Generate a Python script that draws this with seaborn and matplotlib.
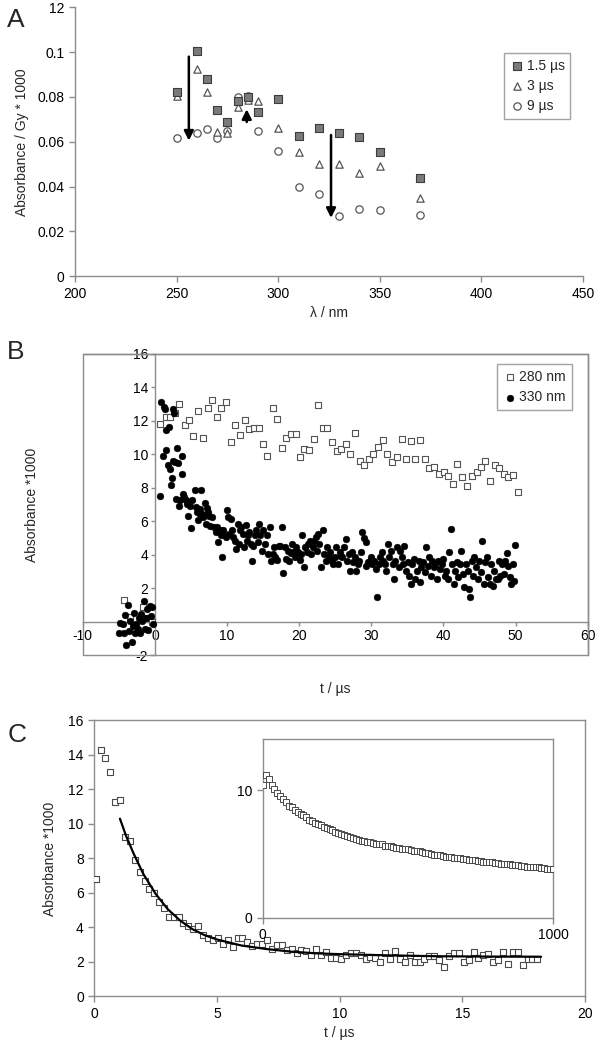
"""
Three-panel transient absorption figure (A: spectra, B: kinetics, C: decay + fit).
Values read off the published figure.
"""

import numpy as np
import pandas as pd
import matplotlib
matplotlib.use("Agg")
import matplotlib.pyplot as plt
from matplotlib.patches import Rectangle
import seaborn as sns

# ---------------- panel A: spectra at three delays ----------------
wavelength = [250, 260, 265, 270, 275, 280, 285, 290, 300, 310, 320, 330, 340, 350, 370]
abs_1_5us = [0.082, 0.1005, 0.088, 0.074, 0.069, 0.078, 0.0800, 0.0735, 0.079, 0.0625,
             0.066, 0.064, 0.062, 0.0555, 0.044]
abs_3us = [0.0805, 0.0925, 0.082, 0.0645, 0.064, 0.0755, 0.0785, 0.078, 0.066, 0.0555,
           0.050, 0.050, 0.046, 0.049, 0.035]
abs_9us = [0.0615, 0.064, 0.0655, 0.0618, 0.065, 0.080, 0.0805, 0.065, 0.056, 0.040,
           0.0365, 0.027, 0.030, 0.0295, 0.0275]
delay_labels = ["1.5 µs", "3 µs", "9 µs"]
a_yticks = [0, 0.02, 0.04, 0.06, 0.08, 0.1, 0.12]
a_yticklabels = ["0", "0.02", "0.04", "0.06", "0.08", "0.1", "12"]
# arrows: (x, y_start, y_end)
arrows_a = [(256, 0.098, 0.0605), (284.5, 0.0688, 0.0745), (326, 0.063, 0.026)]

# ---------------- panel B: kinetics at 280 and 330 nm ----------------
t_280 = [-4.25, -3.5, -2.8, -1.7, -1.1, -0.4,
         0.74, 1.5, 2.1, 2.8, 3.35, 4.1, 4.7, 5.3, 6.0, 6.65, 7.3, 7.9, 8.56, 9.2, 9.9,
         10.5, 11.1, 11.75, 12.45, 13.1, 13.7, 14.4, 14.95, 15.6, 16.3, 16.9, 17.55, 18.2,
         18.8, 19.5, 20.1, 20.7, 21.3, 22.0, 22.66, 23.3, 23.9, 24.6, 25.2, 25.85, 26.5,
         27.1, 27.8, 28.4, 29.0, 29.7, 30.3, 30.95, 31.6, 32.2, 32.9, 33.6, 34.2, 34.8,
         35.5, 36.1, 36.76, 37.4, 38.0, 38.7, 39.4, 40.05, 40.6, 41.3, 41.9, 42.6, 43.2,
         43.9, 44.6, 45.2, 45.7, 46.4, 47.1, 47.7, 48.4, 49.0, 49.7, 50.3]
a_280 = [1.3, 0.3, -0.2, 0.9, 0.2, 0.0,
         11.8, 12.25, 12.25, 12.45, 13.0, 11.73, 12.05, 11.07, 12.58, 11.0, 12.76, 13.26,
         12.25, 12.74, 13.14, 10.75, 11.73, 11.15, 12.05, 11.49, 11.6, 11.55, 10.6, 9.9,
         12.74, 12.09, 10.37, 11.0, 11.2, 11.2, 9.83, 10.33, 10.27, 10.93, 12.92, 11.57,
         11.57, 10.73, 10.17, 10.33, 10.63, 10.0, 11.25, 9.59, 9.35, 9.73, 9.99, 10.45,
         10.85, 9.99, 9.55, 9.83, 10.89, 9.73, 10.8, 9.73, 10.83, 9.69, 9.21, 9.25, 8.81,
         8.95, 8.71, 8.23, 9.41, 8.65, 8.13, 8.73, 8.95, 9.25, 9.59, 8.43, 9.35, 9.21,
         8.81, 8.63, 8.79, 7.77]

t_330 = [-5.05, -4.85, -4.5, -4.25, -4.1, -3.95, -3.8, -3.55, -3.4, -3.25, -3.1, -2.95,
         -2.75, -2.6, -2.4, -2.25, -2.1, -1.9, -1.75, -1.55, -1.4, -1.2, -1.05, -0.9,
         -0.75, -0.6, -0.45, -0.25,
         0.7, 0.85, 1.1, 1.25, 1.4, 1.5, 1.6, 1.75, 2.0, 2.1, 2.2, 2.3, 2.45, 2.55, 2.6,
         2.8, 2.9, 3.1, 3.2, 3.35, 3.5, 3.7, 3.8, 3.95, 4.05, 4.3, 4.5, 4.6, 4.8, 4.95,
         5.2, 5.5, 5.65, 5.85, 6.0, 6.2, 6.3, 6.45, 6.55, 6.7, 6.9, 7.1, 7.25, 7.35, 7.55,
         7.7, 7.95, 8.15, 8.4, 8.55, 8.75, 8.95, 9.15, 9.3, 9.4, 9.6, 9.85, 10.0, 10.15,
         10.25, 10.5, 10.65, 10.85, 11.05, 11.2, 11.45, 11.6, 11.8, 12.0, 12.2, 12.4,
         12.6, 12.8, 12.95, 13.1, 13.35, 13.5, 13.65, 13.9, 14.0, 14.25, 14.45, 14.6,
         14.8, 15.05, 15.25, 15.5, 15.7, 15.9, 16.1, 16.35, 16.55, 16.7, 16.9, 17.2, 17.4,
         17.55, 17.7, 18.0, 18.2, 18.4, 18.6, 18.8, 19.0, 19.2, 19.4, 19.6, 19.85, 20.05,
         20.25, 20.4, 20.65, 20.85, 21.05, 21.2, 21.45, 21.7, 21.85, 22.05, 22.3, 22.45,
         22.65, 22.8, 23.05, 23.25, 23.45, 23.65, 23.9, 24.1, 24.3, 24.5, 24.7, 24.95,
         25.15, 25.35, 25.6, 25.8, 26.0, 26.2, 26.45, 26.65, 26.85, 27.05, 27.3, 27.5,
         27.7, 27.9, 28.15, 28.35, 28.55, 28.75, 29.0, 29.2, 29.3, 29.5, 29.75, 29.95,
         30.15, 30.35, 30.6, 30.8, 31.0, 31.2, 31.45, 31.65, 31.85, 32.1, 32.3, 32.5,
         32.7, 32.95, 33.15, 33.35, 33.55, 33.8, 34.0, 34.2, 34.4, 34.6, 34.85, 35.05,
         35.25, 35.5, 35.7, 35.9, 36.1, 36.3, 36.55, 36.75, 36.95, 37.2, 37.4, 37.6, 37.8,
         38.0, 38.25, 38.45, 38.65, 38.9, 39.1, 39.3, 39.5, 39.75, 39.95, 40.15, 40.35,
         40.6, 40.8, 41.0, 41.2, 41.45, 41.65, 41.85, 42.05, 42.3, 42.5, 42.7, 42.9,
         43.15, 43.35, 43.55, 43.65, 43.9, 44.1, 44.3, 44.5, 44.75, 44.95, 45.15, 45.35,
         45.6, 45.8, 46.0, 46.2, 46.45, 46.65, 46.85, 47.05, 47.3, 47.5, 47.7, 47.9, 48.1,
         48.35, 48.55, 48.75, 48.95, 49.2, 49.4, 49.6, 49.8, 49.95]
a_330 = [-0.65, -0.1, -0.15, -0.65, 0.4, -1.4, 1.0, -0.55, 0.05, -1.2, -0.25, 0.55,
         -0.7, -0.15, -0.45, 0.25, -0.65, 0.45, 0.05, 1.25, -0.45, 0.25, 0.75, -0.5,
         0.95, 0.35, 0.85, -0.15,
         7.5, 13.1, 9.9, 12.85, 12.7, 10.25, 11.45, 9.35, 11.65, 9.15, 8.15, 8.6, 12.7,
         9.6, 12.45, 9.55, 7.35, 10.4, 9.5, 6.9, 7.25, 8.85, 9.9, 7.6, 7.45, 7.25, 7.05,
         6.3, 6.9, 5.6, 7.25, 7.85, 6.85, 6.55, 6.05, 6.75, 6.45, 7.85, 6.45, 6.25, 7.1,
         5.85, 6.8, 6.55, 6.3, 5.7, 6.25, 5.65, 5.35, 5.65, 4.75, 5.45, 5.15, 3.85, 5.5,
         5.25, 5.05, 6.7, 6.25, 5.25, 6.15, 5.45, 5.05, 4.85, 4.35, 5.85, 4.65, 5.45,
         5.65, 5.25, 4.45, 5.8, 4.85, 5.15, 5.35, 4.65, 3.6, 4.55, 5.15, 5.45, 4.75, 5.85,
         5.2, 4.25, 5.45, 4.65, 5.15, 4.05, 5.65, 3.65, 4.05, 4.45, 3.85, 3.7, 4.55, 4.55,
         5.65, 2.9, 4.45, 3.75, 4.25, 3.65, 4.1, 4.65, 4.15, 3.85, 4.45, 4.15, 3.7, 4.05,
         5.15, 3.25, 4.45, 4.15, 4.65, 4.85, 4.05, 4.45, 4.85, 5.05, 4.25, 5.25, 4.65,
         3.25, 5.45, 4.05, 3.65, 4.45, 3.85, 4.15, 3.65, 3.45, 3.85, 4.45, 3.45, 4.15,
         3.9, 3.85, 4.45, 4.95, 3.65, 4.05, 3.05, 4.15, 3.55, 3.85, 3.05, 3.45, 3.65,
         4.15, 5.35, 5.0, 4.75, 3.35, 3.55, 3.65, 3.85, 3.45, 3.65, 3.15, 1.5, 3.45, 3.85,
         4.15, 3.65, 3.45, 3.05, 4.65, 3.85, 4.25, 3.45, 2.55, 3.65, 4.45, 3.25, 4.25,
         3.85, 3.45, 4.55, 3.05, 3.55, 2.75, 2.25, 3.45, 3.75, 2.55, 3.05, 3.65, 2.35,
         3.25, 3.55, 2.95, 4.45, 3.35, 3.85, 2.75, 3.65, 3.25, 3.45, 2.55, 3.65, 3.15,
         3.45, 3.75, 2.75, 3.05, 2.55, 4.15, 5.55, 3.45, 2.25, 3.05, 3.55, 2.65, 3.45,
         4.25, 2.85, 2.05, 3.45, 3.05, 1.95, 1.45, 3.65, 2.75, 3.85, 3.25, 2.55, 3.65,
         2.95, 4.85, 2.25, 3.55, 3.85, 2.65, 2.25, 3.45, 2.15, 3.05, 2.55, 2.55, 3.65,
         2.75, 3.45, 2.85, 3.65, 4.1, 3.35, 2.65, 2.25, 3.45, 2.45, 4.6]
b_yticks = [-2, 0, 2, 4, 6, 8, 10, 12, 14, 16]
b_yticklabels = ["-2", "", "2", "4", "6", "8", "10", "12", "14", "16"]
b_xticks = [-10, 0, 10, 20, 30, 40, 50, 60]

# ---------------- panel C: decay at short times + fit ----------------
t_c = [0.06, 0.26, 0.45, 0.66, 0.86, 1.06, 1.25, 1.46, 1.66, 1.86, 2.05, 2.25, 2.43,
       2.63, 2.83, 3.05, 3.25, 3.44, 3.62, 3.82, 4.04, 4.24, 4.44, 4.64, 4.84, 5.04,
       5.25, 5.45, 5.64, 5.84, 6.04, 6.24, 6.44, 6.64, 6.84, 7.04, 7.24, 7.44, 7.64,
       7.84, 8.04, 8.24, 8.44, 8.64, 8.84, 9.05, 9.24, 9.44, 9.65, 9.85, 10.05, 10.25,
       10.45, 10.65, 10.85, 11.05, 11.25, 11.45, 11.65, 11.85, 12.05, 12.25, 12.45,
       12.65, 12.85, 13.05, 13.25, 13.45, 13.65, 13.85, 14.05, 14.25, 14.45, 14.65,
       14.85, 15.05, 15.25, 15.45, 15.65, 15.85, 16.05, 16.25, 16.45, 16.65, 16.85,
       17.05, 17.25, 17.45, 17.65, 17.85, 18.05]
a_c = [6.82, 14.3, 13.8, 13.0, 11.25, 11.37, 9.25, 9.0, 7.88, 7.23, 6.69, 6.24, 5.97,
       5.47, 5.14, 4.62, 4.62, 4.62, 4.24, 4.08, 3.89, 4.08, 3.56, 3.41, 3.26, 3.37,
       3.06, 3.26, 2.87, 3.37, 3.37, 3.18, 2.93, 3.02, 3.02, 3.28, 2.77, 2.99, 2.99,
       2.70, 2.74, 2.50, 2.70, 2.64, 2.41, 2.74, 2.41, 2.58, 2.25, 2.25, 2.16, 2.41,
       2.54, 2.54, 2.41, 2.16, 2.31, 2.25, 1.97, 2.50, 2.16, 2.64, 2.16, 2.00, 2.41,
       1.97, 2.00, 2.16, 2.35, 2.35, 2.12, 1.68, 2.35, 2.50, 2.50, 1.97, 2.10, 2.58,
       2.20, 2.41, 2.45, 1.97, 2.10, 2.58, 1.87, 2.58, 2.58, 1.81, 2.16, 2.16, 2.16]
t_fit = [1.05, 1.3, 1.6, 2.0, 2.5, 3.0, 3.5, 4.0, 4.5, 5.0, 6.0, 7.0, 8.0, 9.0, 10.0,
         12.0, 14.0, 16.0, 18.2]
a_fit = [10.3, 9.3, 8.3, 7.1, 5.95, 5.05, 4.4, 3.9, 3.55, 3.3, 2.95, 2.75, 2.6, 2.5,
         2.45, 2.38, 2.33, 2.31, 2.3]

# inset: long time scale
t_inset = [0, 10, 20, 30, 40, 50, 60, 70, 80, 90, 100, 110, 120, 130, 140, 150, 160,
           170, 180, 190, 200, 210, 220, 230, 240, 250, 260, 270, 280, 290, 300, 310,
           320, 330, 340, 350, 360, 370, 380, 390, 400, 410, 420, 430, 440, 450, 460,
           470, 480, 490, 500, 510, 520, 530, 540, 550, 560, 570, 580, 590, 600, 610,
           620, 630, 640, 650, 660, 670, 680, 690, 700, 710, 720, 730, 740, 750, 760,
           770, 780, 790, 800, 810, 820, 830, 840, 850, 860, 870, 880, 890, 900, 910,
           920, 930, 940, 950, 960, 970, 980, 990, 1000]
a_inset = [10.4, 11.2, 10.9, 10.4, 10.1, 9.8, 9.55, 9.3, 9.05, 8.8, 8.65, 8.45, 8.3,
           8.15, 8.05, 7.9, 7.7, 7.6, 7.45, 7.35, 7.25, 7.15, 7.05, 6.95, 6.85, 6.75,
           6.65, 6.55, 6.45, 6.4, 6.3, 6.25, 6.15, 6.1, 6.05, 6.0, 5.95, 5.9, 5.85, 5.8,
           5.75, 5.75, 5.65, 5.65, 5.6, 5.55, 5.5, 5.45, 5.4, 5.4, 5.35, 5.3, 5.25, 5.2,
           5.2, 5.15, 5.1, 5.05, 5.0, 4.95, 4.9, 4.9, 4.85, 4.8, 4.8, 4.75, 4.7, 4.7,
           4.65, 4.6, 4.6, 4.55, 4.5, 4.5, 4.45, 4.45, 4.4, 4.4, 4.35, 4.35, 4.3, 4.3,
           4.25, 4.2, 4.2, 4.2, 4.15, 4.1, 4.1, 4.05, 4.05, 4.0, 4.0, 4.0, 3.95, 3.95,
           3.9, 3.9, 3.85, 3.85, 3.8]

SPINE = "#8c8c8c"
FS = 10


def style_axes(ax):
    for s in ax.spines.values():
        s.set_color(SPINE)
        s.set_linewidth(1.0)
    ax.tick_params(colors=SPINE, labelcolor="black", labelsize=FS, length=4, width=1)


def panel_a(ax):
    df = pd.DataFrame({
        "wl": wavelength * 3,
        "abs": abs_1_5us + abs_3us + abs_9us,
        "delay": [delay_labels[0]] * len(wavelength) + [delay_labels[1]] * len(wavelength)
                 + [delay_labels[2]] * len(wavelength),
    })
    styles = {
        delay_labels[0]: dict(marker="s", s=30, color="#7a7a7a", edgecolor="#3c3c3c", linewidth=0.8),
        delay_labels[1]: dict(marker="^", s=28, color="white", edgecolor="#555555", linewidth=0.9),
        delay_labels[2]: dict(marker="o", s=28, color="white", edgecolor="#555555", linewidth=0.9),
    }
    # draw 9 µs first so squares/triangles sit on top as in the original
    for lab in [delay_labels[2], delay_labels[1], delay_labels[0]]:
        sub = df[df["delay"] == lab]
        sns.scatterplot(data=sub, x="wl", y="abs", ax=ax, label=lab, zorder=3, **styles[lab])

    for x, y0, y1 in arrows_a:
        ax.annotate("", xy=(x, y1), xytext=(x, y0),
                    arrowprops=dict(arrowstyle="-|>", color="black", lw=1.8,
                                    mutation_scale=14, shrinkA=0, shrinkB=0))

    ax.set_xlim(200, 450)
    ax.set_ylim(0, 0.12)
    ax.set_xticks([200, 250, 300, 350, 400, 450])
    ax.set_yticks(a_yticks)
    ax.set_yticklabels(a_yticklabels)
    ax.set_xlabel("λ / nm", fontsize=FS)
    ax.set_ylabel("Absorbance / Gy * 1000", fontsize=FS)
    ax.yaxis.labelpad = 6
    sns.despine(ax=ax)
    style_axes(ax)

    handles, labels = ax.get_legend_handles_labels()
    order = [labels.index(l) for l in delay_labels]
    leg = ax.legend([handles[i] for i in order], [labels[i] for i in order],
                    loc="upper right", bbox_to_anchor=(0.975, 0.83), fontsize=FS,
                    frameon=True, fancybox=False, handletextpad=0.2, borderpad=0.4,
                    labelspacing=0.45, handlelength=1.0, borderaxespad=0)
    leg.get_frame().set_edgecolor(SPINE)
    leg.get_frame().set_linewidth(1.0)


def panel_b(ax):
    df280 = pd.DataFrame({"t": t_280, "a": a_280})
    df330 = pd.DataFrame({"t": t_330, "a": a_330})
    sns.scatterplot(data=df280, x="t", y="a", ax=ax, marker="s", s=22, color="white",
                    edgecolor="#555555", linewidth=0.8, label="280 nm", zorder=3)
    sns.scatterplot(data=df330, x="t", y="a", ax=ax, marker="o", s=24, color="black",
                    edgecolor="black", linewidth=0.3, label="330 nm", zorder=4)
    ax.set_xlim(-10, 60)
    ax.set_ylim(-2, 16)
    ax.set_xticks(b_xticks)
    ax.set_yticks(b_yticks)
    ax.set_yticklabels(b_yticklabels)
    ax.spines["left"].set_position(("data", 0))
    ax.spines["bottom"].set_position(("data", 0))
    ax.add_patch(Rectangle((0, 0), 1, 1, transform=ax.transAxes, fill=False,
                           edgecolor=SPINE, linewidth=1.0, zorder=1, clip_on=False))
    ax.set_xlabel("")
    ax.set_ylabel("")
    ax.text(0.5, -0.09, "t / µs", transform=ax.transAxes, ha="center", va="top", fontsize=FS)
    ax.text(-0.1, 0.5, "Absorbance *1000", transform=ax.transAxes, ha="center",
            va="center", rotation=90, fontsize=FS)
    style_axes(ax)
    ax.tick_params(length=3, pad=2)
    leg = ax.legend(loc="upper right", bbox_to_anchor=(0.968, 0.965), fontsize=FS,
                    frameon=True, fancybox=False, handletextpad=0.2, borderpad=0.4,
                    labelspacing=0.45, handlelength=1.0, borderaxespad=0)
    leg.get_frame().set_edgecolor(SPINE)
    leg.get_frame().set_linewidth(1.0)


def panel_c(ax, axin):
    dfc = pd.DataFrame({"t": t_c, "a": a_c})
    dff = pd.DataFrame({"t": t_fit, "a": a_fit})
    sns.scatterplot(data=dfc, x="t", y="a", ax=ax, marker="s", s=24, color="white",
                    edgecolor="#4a4a4a", linewidth=0.8, zorder=3)
    sns.lineplot(data=dff, x="t", y="a", ax=ax, color="black", linewidth=1.6, zorder=4)
    ax.set_xlim(0, 20)
    ax.set_ylim(0, 16)
    ax.set_xticks([0, 5, 10, 15, 20])
    ax.set_yticks([0, 2, 4, 6, 8, 10, 12, 14, 16])
    ax.set_xlabel("t / µs", fontsize=FS)
    ax.set_ylabel("Absorbance *1000", fontsize=FS)
    ax.yaxis.labelpad = 8
    style_axes(ax)

    dfi = pd.DataFrame({"t": t_inset, "a": a_inset})
    sns.scatterplot(data=dfi, x="t", y="a", ax=axin, marker="s", s=14, color="white",
                    edgecolor="#4a4a4a", linewidth=0.7, zorder=3)
    axin.set_xlim(0, 1000)
    axin.set_ylim(0, 14)
    axin.set_xticks([0, 1000])
    axin.set_yticks([0, 10])
    axin.set_xlabel("")
    axin.set_ylabel("")
    style_axes(axin)


def main():
    sns.set_style("ticks")
    plt.rcParams["font.family"] = ["Liberation Sans", "DejaVu Sans"]
    plt.rcParams["axes.unicode_minus"] = False

    fig = plt.figure(figsize=(5.96, 10.5), dpi=100)
    ax_a = fig.add_axes([0.126, 0.737, 0.852, 0.256])
    ax_b = fig.add_axes([0.139, 0.376, 0.847, 0.287])
    ax_c = fig.add_axes([0.158, 0.051, 0.824, 0.263])
    ax_in = fig.add_axes([0.441, 0.126, 0.487, 0.170])

    panel_a(ax_a)
    panel_b(ax_b)
    panel_c(ax_c, ax_in)

    for lab, y in [("A", 0.981), ("B", 0.665), ("C", 0.300)]:
        fig.text(0.012, y, lab, fontsize=19, ha="left", va="center")

    fig.savefig("out.png", dpi=100)
    plt.close(fig)


if __name__ == "__main__":
    main()
